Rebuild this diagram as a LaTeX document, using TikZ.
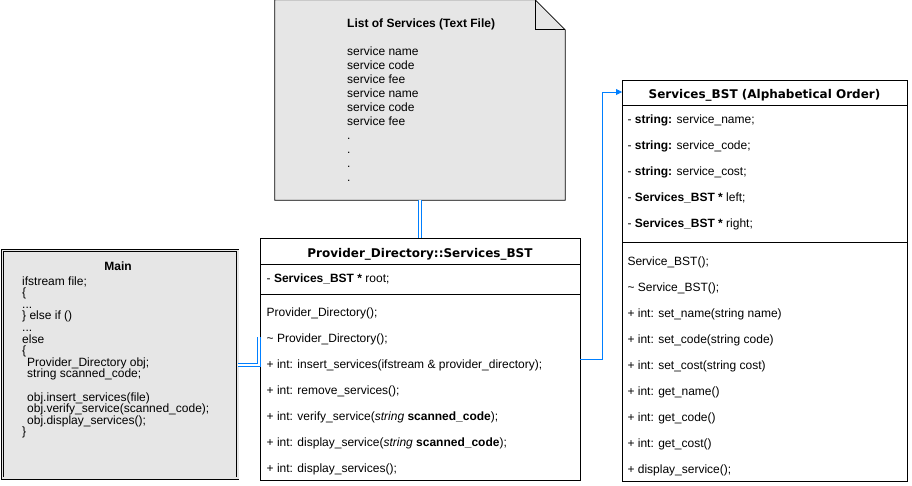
\documentclass[tikz,border=0pt]{standalone}
\usepackage{fontspec}
\setmainfont{Liberation Sans}
\newfontfamily\verd{DejaVu Sans}
\usetikzlibrary{arrows.meta}
\definecolor{boxgray}{HTML}{E6E6E6}
\definecolor{linkblue}{HTML}{007FFF}
\tikzset{
  umlbox/.style={draw=black, line width=0.75pt, fill=white, inner sep=0pt, outer sep=0pt},
  txt/.style={anchor=base west, inner sep=0pt, font=\fontsize{12}{14}\selectfont},
  ttl/.style={anchor=base, inner sep=0pt, font=\verd\bfseries\fontsize{12}{14}\selectfont},
  link/.style={draw=linkblue, double=white, double distance=2.2pt, line width=1pt},
  arr/.style={draw=linkblue, line width=0.75pt, -{Triangle[length=6pt,width=6pt]}},
  sep/.style={draw=black, line width=0.75pt}
}
\begin{document}
\begin{tikzpicture}[x=1pt,y=-1pt]
\useasboundingbox[fill=white] (0,0) rectangle (912,485);

% ---- note (text file)
\node[inner sep=0pt, minimum width=290pt, minimum height=200pt] (note) at (420,100) {};
\draw[fill=boxgray, line width=0.75pt]
  (note.north west) -- ([xshift=-30pt]note.north east) -- ([yshift=-30pt]note.north east)
  -- (note.south east) -- (note.south west) -- cycle;
\draw[line width=0.75pt] ([xshift=-30pt]note.north east) |- ([yshift=-30pt]note.north east);
\node[txt, font=\bfseries\fontsize{12}{14}\selectfont] (ntitle) at (347,27.5) {List of Services (Text File)};
\foreach \y/\t [count=\k] in {55/service name, 69/service code, 83/service fee,
  97/service name, 111/service code, 125/service fee, 139/., 153/., 167/., 181/.}
  \node[txt] (n\k) at (347,\y) {\t};

% ---- Main box
\node[draw=black, fill=boxgray, double=boxgray, double distance=1.6pt, line width=0.7pt,
      inner sep=0pt, minimum width=235.3pt, minimum height=227.7pt] (main) at (120.3,364.3) {};
\node[anchor=base, inner sep=0pt, font=\bfseries\fontsize{12}{14}\selectfont] (mtitle) at (118,270) {Main};
\foreach \y/\x/\t [count=\k] in {
  285/22/{ifstream file;},
  296.6/22/{\{},
  308.2/22/{...},
  319.8/22/{\} else if ()},
  331.4/22/{...},
  343/22/{else},
  354.6/22/{\{},
  366.2/27/{Provider\_Directory obj;},
  377.8/27/{string scanned\_code;},
  401/27/{obj.insert\_services(file)},
  412.6/27/{obj.verify\_service(scanned\_code);},
  424.2/27/{obj.display\_services();},
  435.8/22/{\}}}
  \node[txt] (m\k) at (\x,\y) {\t};

% ---- Provider_Directory box
\node[umlbox, minimum width=320pt, minimum height=242pt] (prov) at (420,359) {};
\draw[sep] (prov.west |- 0,264) -- (prov.east |- 0,264);
\draw[sep] (prov.west |- 0,294) -- (prov.east |- 0,294);
\node[ttl] (ptitle) at (420,257.3) {Provider\_Directory::Services\_BST};
\node[txt] (p0) at (266.5,282) {- \textbf{Services\_BST *} root;};
\foreach \y/\t [count=\k] in {
  316/{Provider\_Directory();},
  342/{\textasciitilde\ Provider\_Directory();},
  368/{+ int: insert\_services(ifstream \& provider\_directory);},
  394/{+ int: remove\_services();},
  420/{+ int: verify\_service(\textit{string} \textbf{scanned\_code});},
  446/{+ int: display\_service(\textit{string} \textbf{scanned\_code});},
  472/{+ int: display\_services();}}
  \node[txt] (p\k) at (266.5,\y) {\t};

% ---- Services_BST box
\node[umlbox, minimum width=285pt, minimum height=401pt] (bst) at (764.5,280.5) {};
\draw[sep] (bst.west |- 0,105) -- (bst.east |- 0,105);
\draw[sep] (bst.west |- 0,242) -- (bst.east |- 0,242);
\node[ttl] (btitle) at (764.5,98.5) {Services\_BST (Alphabetical Order)};
\foreach \y/\t [count=\k] in {
  123.5/{- \textbf{string:} service\_name;},
  149.5/{- \textbf{string:} service\_code;},
  175.5/{- \textbf{string:} service\_cost;},
  201.3/{- \textbf{Services\_BST *} left;},
  227.3/{- \textbf{Services\_BST *} right;}}
  \node[txt] (ba\k) at (627.3,\y) {\t};
\foreach \y/\t [count=\k] in {
  265.7/{Service\_BST();},
  291.7/{\textasciitilde\ Service\_BST();},
  317.7/{+ int: set\_name(string name)},
  343.7/{+ int: set\_code(string code)},
  369.7/{+ int: set\_cost(string cost)},
  395.7/{+ int: get\_name()},
  421.7/{+ int: get\_code()},
  447.7/{+ int: get\_cost()},
  473.7/{+ display\_service();}}
  \node[txt] (bm\k) at (627.3,\y) {\t};

% ---- connectors
\draw[link] (note.south -| 420.3,0) -- (prov.north -| 420.3,0);
\draw[link] (main.east |- 0,365.3) -| ([xshift=-0.8pt]prov.west |- 0,337);
\coordinate (bend) at (602,359);
\draw[arr] (prov.east |- bend) -| (602,92) -- (bst.west |- 0,92);
\end{tikzpicture}
\end{document}
